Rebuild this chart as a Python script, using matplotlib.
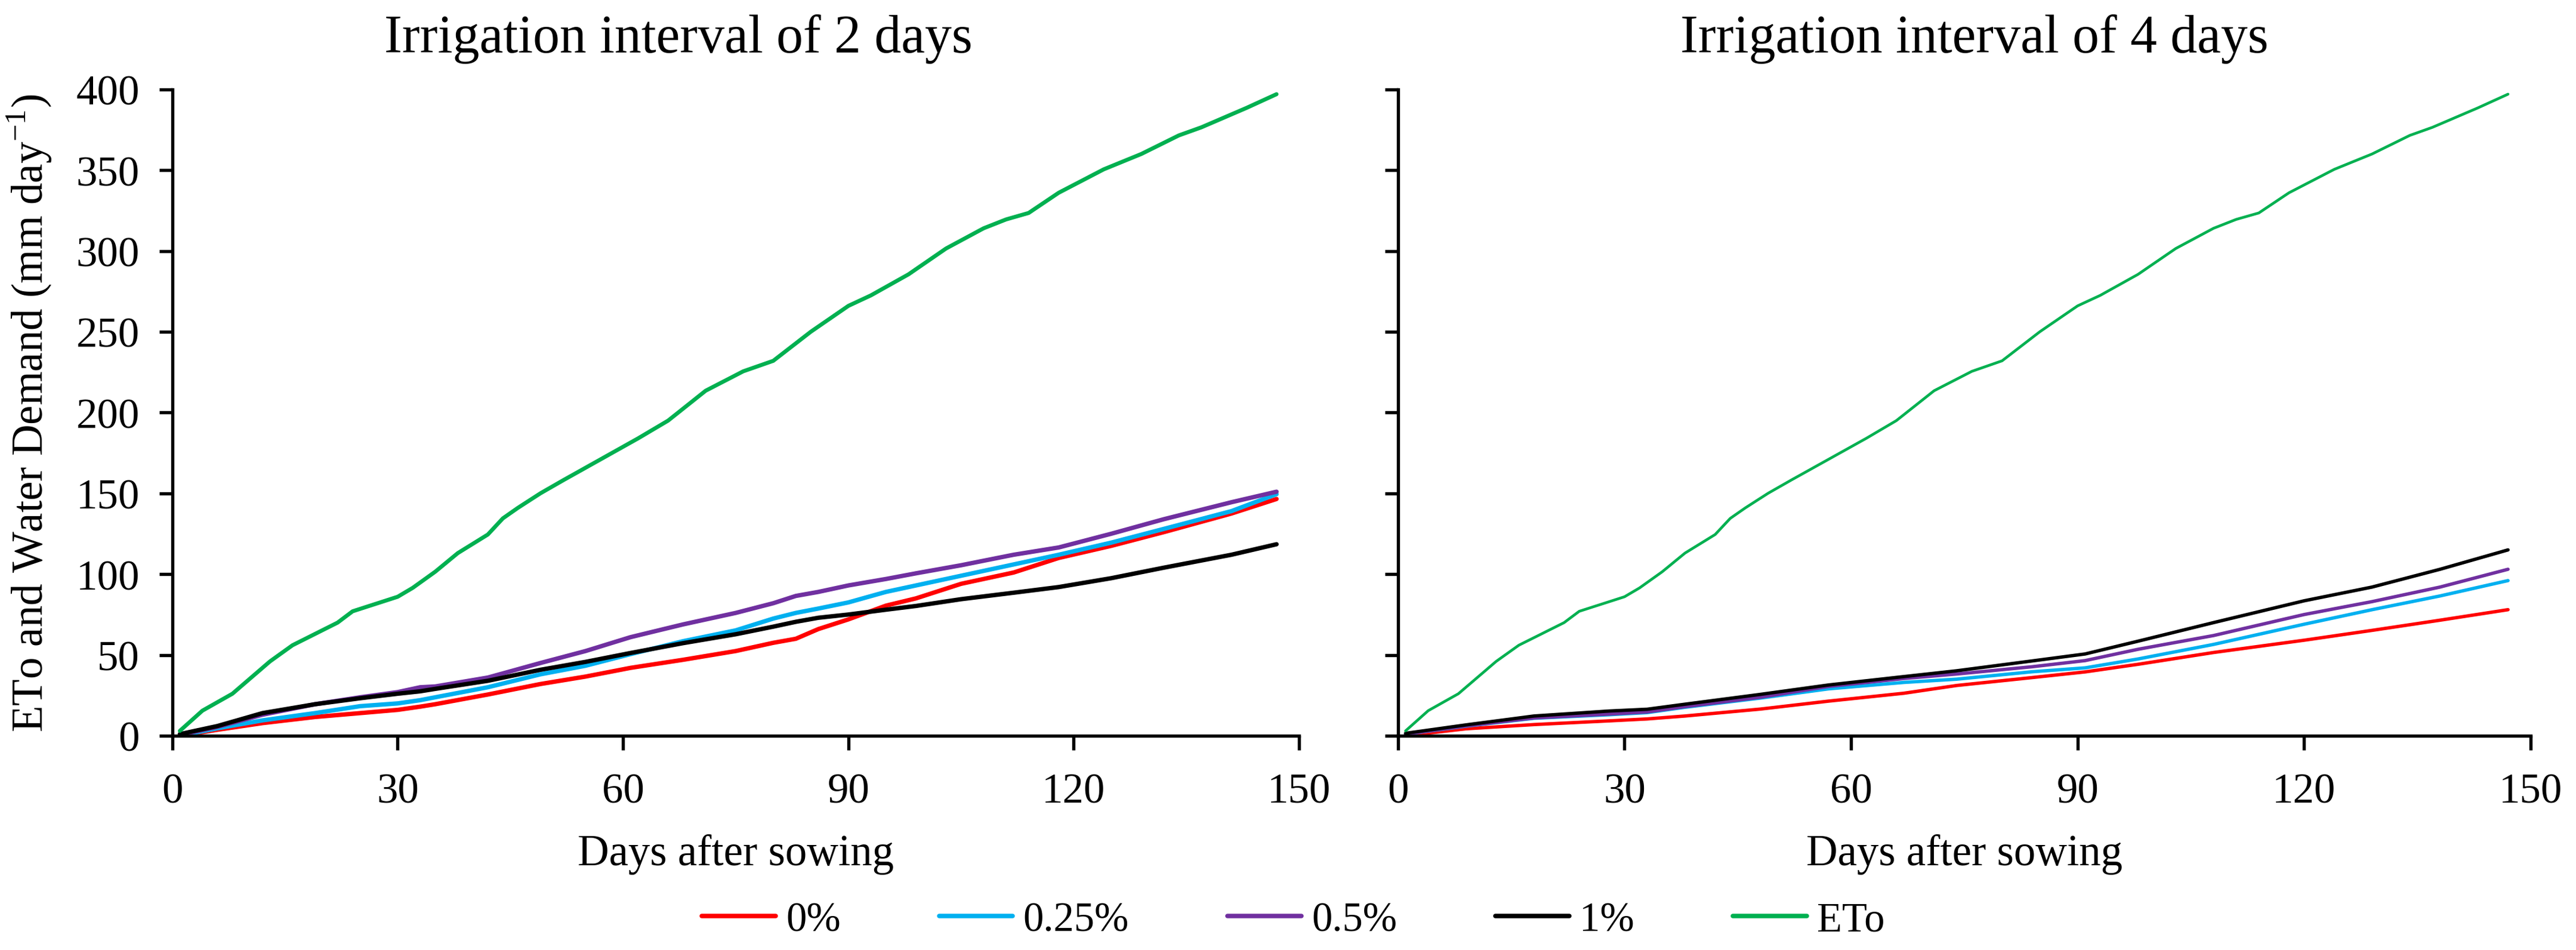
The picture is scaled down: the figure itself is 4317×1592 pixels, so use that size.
import matplotlib
matplotlib.use("Agg")
import matplotlib.pyplot as plt

plt.rcParams['font.family'] = ['Liberation Serif', 'DejaVu Serif']
plt.rcParams['mathtext.fontset'] = 'custom'
plt.rcParams['mathtext.rm'] = 'Liberation Serif'

# ETo (same reference curve in both panels)
eto_days = [1, 4, 8, 10, 13, 16, 19, 22, 24, 27, 30, 32, 35, 38, 42, 44, 46, 49, 52,
            57, 62, 66, 71, 76, 80, 85, 90, 93, 98, 103, 108, 111, 114, 118, 124,
            129, 134, 137, 143, 147]
eto = [3, 15.5, 26, 34, 46, 56, 63, 70, 77, 81.5, 86, 91.5, 101.5, 113, 124.5, 134.5,
       141, 150, 158, 171, 184, 195, 213.5, 225.5, 232, 250, 266, 272.5, 285.5, 301.5,
       314, 319.5, 323.5, 336, 350.5, 360, 371.5, 376.5, 388.5, 397]

# irrigation interval of 2 days
days_2 = [1, 6, 12, 19, 25, 30, 33, 35, 42, 49, 55, 61, 68, 75, 80, 83, 86, 90, 95,
          99, 105, 112, 118, 125, 132, 141, 147]
red_2 = [0, 3.7, 7.8, 11.6, 14, 16, 18, 19.5, 25.5, 32, 36.6, 42, 47, 52.4, 57.5, 60,
         66, 72, 80.5, 85, 94, 101, 110, 117.5, 126, 137.5, 146.5]
cyan_2 = [0, 4.6, 9.5, 14, 18.3, 20, 22, 23.8, 30, 38, 43.3, 50.5, 58.5, 65.2, 72.5,
          76, 78.7, 82.5, 89, 93, 99, 106, 112, 119.5, 128, 139, 149.5]
purple_2 = [0.5, 5.5, 13, 19.5, 23.8, 27, 30, 30.5, 36, 45, 52.4, 61, 68.9, 76, 82,
            86.5, 89, 93, 97, 100.5, 105.5, 112, 116.5, 125, 134, 144.5, 151]
black_2 = [1, 6, 14, 19.5, 23.2, 26, 27.5, 29, 34, 40.8, 45.7, 51.2, 57.3, 62.8, 67.5,
           70.5, 73, 75, 78, 80.3, 84.5, 88.5, 92, 97.5, 104, 112, 118.5]

# irrigation interval of 4 days
days_4 = [1, 9, 18, 28, 33, 38, 48, 57, 67, 74, 84, 91, 98, 108, 120, 129, 138, 147]
red_4 = [0, 4.3, 6.9, 9.2, 10.4, 12.2, 16.5, 21.4, 26.3, 31.1, 36, 39.5, 44.2, 51.5,
         59.1, 65.2, 71.5, 78]
cyan_4 = [1, 5.9, 10.8, 13, 14.3, 17.6, 23.3, 29, 33, 35, 39.6, 42, 47.5, 56.5, 69,
          78, 86.5, 96]
purple_4 = [1, 6.1, 11, 13.4, 14.7, 18, 23.8, 30.5, 35.4, 38.2, 42.7, 46.5, 53.5, 62,
            75, 83, 92, 103]
black_4 = [1.5, 6.7, 12.2, 15.3, 16.4, 19.5, 25.6, 31.4, 36.6, 40.2, 46.3, 50.6, 58.5,
           70, 83.5, 92, 103, 115]

labels = ['0%', '0.25%', '0.5%', '1%', 'ETo']
colors = ['#FF0000', '#00B0F0', '#7030A0', '#000000', '#00B050']

fig = plt.figure(figsize=(4317 / 300, 1593 / 300), dpi=300)
ax1 = fig.add_axes([0.0669, 0.2254, 0.4374, 0.680])
ax2 = fig.add_axes([0.5427, 0.2254, 0.4397, 0.680])

# axes, x, demand series, title, title x, line width, ETo line width
panels = [
    (ax1, days_2, [red_2, cyan_2, purple_2, black_2], 'Irrigation interval of 2 days', 0.449, 1.75, 1.6),
    (ax2, days_4, [red_4, cyan_4, purple_4, black_4], 'Irrigation interval of 4 days', 0.509, 1.35, 1.1),
]

for ax, days, series, title, tx, lw, lw_eto in panels:
    for vals, c, lab in zip(series, colors[:4], labels[:4]):
        ax.plot(days, vals, color=c, lw=lw, label=lab, solid_capstyle='round')
    ax.plot(eto_days, eto, color=colors[4], lw=lw_eto, label=labels[4], solid_capstyle='round')

    ax.set_xlim(0, 150)
    ax.set_ylim(0, 400)
    ax.set_xticks(range(0, 151, 30))
    ax.set_yticks(range(0, 401, 50))
    for s in ['top', 'right']:
        ax.spines[s].set_visible(False)
    for s in ['left', 'bottom']:
        ax.spines[s].set_linewidth(1.3)
    ax.tick_params(axis='x', direction='out', length=5.8, width=1.3, pad=9, labelsize=17)
    ax.tick_params(axis='y', direction='out', length=5.2, width=1.3, pad=8, labelsize=17)
    ax.set_xlabel('Days after sowing', fontsize=17.5, labelpad=9)
    ax.set_title(title, fontsize=21.5, x=tx, pad=15)

ax2.tick_params(axis='y', labelleft=False)
ax1.set_ylabel('ETo and Water Demand (mm day$^{-1}$)', fontsize=17.5, labelpad=9)

handles, labs = ax1.get_legend_handles_labels()
leg = fig.legend(handles, labs, loc='center', bbox_to_anchor=(0.502, 0.031), ncol=5,
                 frameon=False, fontsize=16.5, handlelength=1.8, handletextpad=0.25,
                 columnspacing=2.4)
for line in leg.get_lines():
    line.set_linewidth(1.8)

fig.savefig('out.png', dpi=300)
